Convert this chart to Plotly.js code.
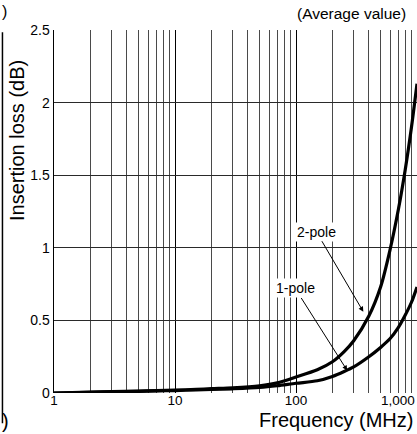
<!DOCTYPE html>
<html>
<head>
<meta charset="utf-8">
<script src="https://cdn.plot.ly/plotly-3.0.1.min.js"></script>
<style>
html,body{margin:0;padding:0;background:#fff;}
#chart{width:417px;height:434px;}
</style>
</head>
<body>
<div id="chart"></div>
<script>
// Frequency points (MHz)
const freqMHz = [1, 2, 3, 5, 7, 10, 15, 20, 30, 50, 70, 100, 150, 200, 250, 300, 400, 500, 600, 700, 800, 900, 1000];
// Insertion loss (dB)
const loss2Pole = [0, 0.006, 0.009, 0.013, 0.016, 0.02, 0.025, 0.03, 0.036, 0.05, 0.07, 0.11, 0.16, 0.215, 0.285, 0.36, 0.53, 0.73, 0.99, 1.26, 1.54, 1.83, 2.13];
const loss1Pole = [0, 0.005, 0.008, 0.011, 0.014, 0.017, 0.021, 0.024, 0.029, 0.038, 0.05, 0.067, 0.084, 0.114, 0.148, 0.18, 0.25, 0.314, 0.375, 0.45, 0.537, 0.625, 0.73];

const majorTicks = [1, 10, 100, 1000];
const majorTickText = ['1', '10', '100', ''];
const minorTicks = [2,3,4,5,6,7,8,9,20,30,40,50,60,70,80,90,200,300,400,500,600,700,800,900];
const yTicks = [0, 0.5, 1, 1.5, 2, 2.5];
const yTickText = ['0', '0.5', '1', '1.5', '2', '2.5'];

const FONT = 'Liberation Sans, Arial, Helvetica, sans-serif';

const traces = [
  {x: freqMHz, y: loss1Pole, type: 'scatter', mode: 'lines', name: '1-pole',
   line: {color: '#000', width: 3.2, shape: 'spline', smoothing: 0.8}},
  {x: freqMHz, y: loss2Pole, type: 'scatter', mode: 'lines', name: '2-pole',
   line: {color: '#000', width: 3.2, shape: 'spline', smoothing: 0.8}}
];

const layout = {
  width: 417, height: 434,
  margin: {l: 54, r: 0, t: 30, b: 41},
  paper_bgcolor: '#fff', plot_bgcolor: '#fff',
  showlegend: false,
  font: {family: FONT, color: '#000', size: 13},
  xaxis: {
    type: 'log', range: [0, 3],
    anchor: 'free', position: 0.007,
    tickvals: majorTicks, ticktext: majorTickText,
    ticks: '', showgrid: true, gridcolor: '#000', gridwidth: 1,
    minor: {tickvals: minorTicks, showgrid: true, gridcolor: '#4a4a4a', gridwidth: 1, ticks: ''},
    showline: false,
    zeroline: false, tickfont: {size: 13.5, color: '#000'}
  },
  yaxis: {
    range: [0, 2.5], tickvals: yTicks, ticktext: yTickText,
    ticks: '', showgrid: true, gridcolor: '#2a2a2a', gridwidth: 1,
    showline: true, linecolor: '#000', linewidth: 1.5, mirror: true,
    zeroline: false, tickfont: {size: 14, color: '#000'}, ticklabelstandoff: 0
  },
  annotations: [
    {xref: 'paper', yref: 'paper', x: 1, y: 0, xanchor: 'right', yanchor: 'top', yshift: 2,
     text: '1,000', showarrow: false, font: {size: 13.5, color: '#000'}},
    {xref: 'paper', yref: 'paper', x: 0.995, y: 0, xanchor: 'right', yanchor: 'top', yshift: -14,
     text: 'Frequency (MHz)', showarrow: false, font: {size: 20, color: '#000'}},
    {xref: 'paper', yref: 'paper', x: -0.102, y: 0.697, xanchor: 'center', yanchor: 'middle',
     textangle: -90, text: 'Insertion loss (dB)', showarrow: false, font: {size: 20, color: '#000'}},
    {xref: 'paper', yref: 'paper', x: 0.975, y: 1, xanchor: 'right', yanchor: 'bottom', yshift: 6,
     text: '(Average value)', showarrow: false, font: {size: 15.5, color: '#000'}},
    {xref: 'x', yref: 'y', x: Math.log10(360), y: 0.56, ax: -47, ay: -80,
     text: '2-pole', showarrow: true, arrowhead: 2, arrowsize: 1, arrowwidth: 1, arrowcolor: '#000',
     bgcolor: '#fff', borderpad: 1, font: {size: 14, color: '#000'}},
    {xref: 'x', yref: 'y', x: Math.log10(265), y: 0.155, ax: -52, ay: -82,
     text: '1-pole', showarrow: true, arrowhead: 2, arrowsize: 1, arrowwidth: 1, arrowcolor: '#000',
     bgcolor: '#fff', borderpad: 1, font: {size: 14, color: '#000'}},
    {xref: 'paper', yref: 'paper', x: -0.149, y: 1.05, xanchor: 'left', yanchor: 'middle',
     text: ')', showarrow: false, font: {size: 16, color: '#000'}},
    {xref: 'paper', yref: 'paper', x: -0.149, y: -0.077, xanchor: 'left', yanchor: 'middle',
     text: ')', showarrow: false, font: {size: 20, color: '#000'}}
  ],
  shapes: [
    {type: 'line', xref: 'paper', yref: 'paper', x0: -0.142, x1: -0.142, y0: 0.994, y1: -0.083,
     line: {color: '#000', width: 1.5}}
  ]
};

Plotly.newPlot('chart', traces, layout, {displayModeBar: false, staticPlot: true});
</script>
</body>
</html>
